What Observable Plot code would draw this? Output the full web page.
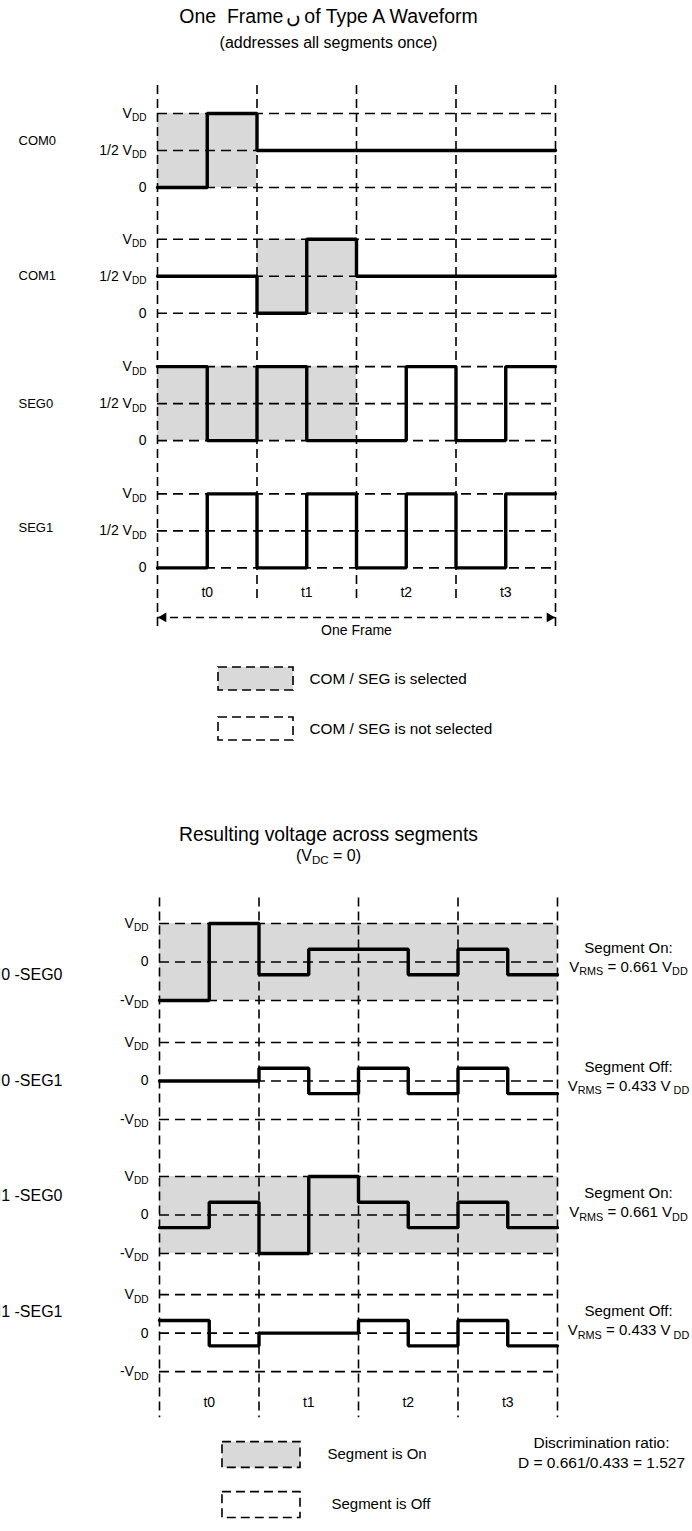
<!DOCTYPE html>
<html>
<head>
<meta charset="utf-8">
<script src="https://cdn.jsdelivr.net/npm/d3@7"></script>
<script src="https://cdn.jsdelivr.net/npm/@observablehq/plot@0.6"></script>
<style>
  body { margin: 0; background: #fff; }
  #chart { position: relative; width: 692px; height: 1531px; overflow: hidden; background: #fff;
           font-family: "Liberation Sans", Arial, Helvetica, sans-serif; color: #000; }
  .ttl { position: absolute; left: 0; width: 657px; text-align: center; white-space: pre; line-height: 1; }
  .sub { font-size: 0.72em; position: relative; top: 0.25em; }
  .gl { margin: 0 3px; }
  .pw { position: absolute; left: 0; }
</style>
</head>
<body>
<div id="chart"></div>
<script>
const fontFamily = '"Liberation Sans", Arial, Helvetica, sans-serif';

// ---------- shared ----------
const phases = ["t0", "t1", "t2", "t3"];

// ---------- top: drive waveforms (level per half phase, in VDD) ----------
const topSignals = ["COM0", "COM1", "SEG0", "SEG1"];
const com0 = [0, 1, 0.5, 0.5, 0.5, 0.5, 0.5, 0.5];
const com1 = [0.5, 0.5, 0, 1, 0.5, 0.5, 0.5, 0.5];
const seg0 = [1, 0, 1, 0, 0, 1, 0, 1];
const seg1 = [0, 1, 0, 1, 0, 1, 0, 1];
const topLevels = [0, 0.5, 1];
const topTickLabels = ["0", "1/2 V_{DD}", "V_{DD}"];
const topRowOffset = [0, -1.70, -3.42, -5.14];
const topLabelLevel = [0.635, 0.5, 0.5, 0.54];
const topSelected = [
  {row: 0, from: 0, to: 1},
  {row: 1, from: 1, to: 2},
  {row: 2, from: 0, to: 2}
];
const topLegendLabels = ["COM / SEG is selected", "COM / SEG is not selected"];
const legendFills = ["#d9d9d9", "#ffffff"];

// ---------- bottom: resulting voltage (drawn level per half phase, in VDD) ----------
const bottomSignals = ["COM0 -SEG0", "COM0 -SEG1", "COM1 -SEG0", "COM1 -SEG1"];
const com0seg0 = [-1, 1, -0.33, 0.33, 0.33, -0.33, 0.33, -0.33];
const com0seg1 = [0, 0, 0.33, -0.33, 0.33, -0.33, 0.33, -0.33];
const com1seg0 = [-0.33, 0.33, -1, 1, 0.33, -0.33, 0.33, -0.33];
const com1seg1 = [0.33, -0.33, 0, 0, 0.33, -0.33, 0.33, -0.33];
const bottomLevels = [-1, 0, 1];
const bottomTickLabels = ["-V_{DD}", "0", "V_{DD}"];
const bottomRowOffset = [0, -3.09, -6.57, -9.64];
const bottomLabelLevel = [-0.34, 0, 0.5, 0.55];
const segmentOnRows = [0, 2];
const statusLabels = ["Segment On:", "Segment Off:", "Segment On:", "Segment Off:"];
const vrmsLabels = ["V_{RMS} = 0.661 V_{DD}", "V_{RMS} = 0.433 V_{ DD}", "V_{RMS} = 0.661 V_{DD}", "V_{RMS} = 0.433 V_{ DD}"];
const statusLevel = [0.36, 0.36, 0.56, 0.56];
const vrmsLevel = [-0.13, -0.13, 0.07, 0.07];
const discriminationLines = ["Discrimination ratio:", "D = 0.661/0.433 = 1.527"];
const bottomLegendLabels = ["Segment is On", "Segment is Off"];

// ---------- helpers ----------
function stepPoints(values, row, offsets) {
  const pts = values.map((v, i) => ({row, x: i / 2, y: offsets[row] + v}));
  pts.push({row, x: 4, y: offsets[row] + values[values.length - 1]});
  return pts;
}
function applySubscripts(svg) {
  d3.select(svg).selectAll("text").each(function () {
    const t = this.textContent;
    if (!t.includes("_{")) return;
    const el = d3.select(this);
    el.text(null);
    const parts = t.split(/(_\{[^}]*\})/).filter(p => p.length);
    let down = false;
    for (const p of parts) {
      if (p.startsWith("_{")) {
        el.append("tspan").attr("font-size", "0.72em").attr("dy", down ? 0 : 3.5).text(p.slice(2, -1));
        down = true;
      } else {
        el.append("tspan").attr("dy", down ? -3.5 : 0).text(p);
        down = false;
      }
    }
  });
}
const dashGrid = "10,6";
const dashV = "9,5";
const gw = 1.6;
const ww = 3.4;

// ---------- top plot ----------
const topWave = [com0, com1, seg0, seg1].flatMap((vals, r) => stepPoints(vals, r, topRowOffset));
const topGrid = topSignals.flatMap((s, r) => topLevels.map((l, i) => ({y: topRowOffset[r] + l, text: topTickLabels[i]})));
const topV = [0, 1, 2, 3, 4].map(x => ({x, y1: 1.378, y2: (x === 0 || x === 4) ? -5.96 : -5.62}));
const topLegend = topLegendLabels.map((label, i) => ({label, fill: legendFills[i], i}));
const arrowY = -5.81;

const topPlot = Plot.plot({
  width: 692, height: 780, margin: 0,
  x: {domain: [0, 4], range: [157, 555], axis: null},
  y: {domain: [0, 1], range: [187, 113], axis: null},
  style: {fontFamily, fontSize: "13px", color: "black", background: "white"},
  marks: [
    Plot.rect(topSelected, {x1: "from", x2: "to", y1: d => topRowOffset[d.row], y2: d => topRowOffset[d.row] + 1, fill: "#d9d9d9"}),
    Plot.ruleY(topGrid, {y: "y", x1: () => 0, x2: () => 4, stroke: "black", strokeWidth: gw, strokeDasharray: dashGrid}),
    Plot.ruleX(topV, {x: "x", y1: "y1", y2: "y2", stroke: "black", strokeWidth: gw, strokeDasharray: dashV}),
    Plot.line(topWave, {x: "x", y: "y", z: "row", curve: "step-after", stroke: "black", strokeWidth: ww, strokeLinejoin: "miter"}),
    Plot.text(topSignals, {x: () => 0, y: (d, i) => topRowOffset[i] + topLabelLevel[i], text: d => d, textAnchor: "start", dx: -139, fontSize: 13}),
    Plot.text(topGrid, {x: () => 0, y: "y", text: "text", textAnchor: "end", dx: -11, fontSize: 14}),
    Plot.text(phases, {x: (d, i) => i + 0.5, y: () => -5.47, text: d => d, fontSize: 14}),
    Plot.ruleY([arrowY], {x1: () => 0, x2: () => 4, stroke: "black", strokeWidth: gw, strokeDasharray: "8,5"}),
    Plot.dot([0], {x: d => d, y: () => arrowY, symbol: "triangle", r: 3.6, fill: "black", stroke: "none", rotate: -90, dx: 6}),
    Plot.dot([4], {x: d => d, y: () => arrowY, symbol: "triangle", r: 3.6, fill: "black", stroke: "none", rotate: 90, dx: -6}),
    Plot.text(["One Frame"], {x: () => 2, y: () => -5.99, text: d => d, fontSize: 14}),
    Plot.rect(topLegend, {x1: () => 0.613, x2: () => 1.367, y1: d => -6.486 - d.i * 0.676, y2: d => -6.797 - d.i * 0.676,
      fill: "fill", stroke: "black", strokeWidth: gw, strokeDasharray: dashV}),
    Plot.text(topLegend, {x: () => 1.528, y: d => -6.649 - d.i * 0.676, text: "label", textAnchor: "start", fontSize: 15.3})
  ]
});

// ---------- bottom plot ----------
const bottomWave = [com0seg0, com0seg1, com1seg0, com1seg1].flatMap((vals, r) => stepPoints(vals, r, bottomRowOffset));
const bottomGrid = bottomSignals.flatMap((s, r) => bottomLevels.map((l, i) => ({y: bottomRowOffset[r] + l, text: bottomTickLabels[i]})));
const bottomV = [0, 1, 2, 3, 4].map(x => ({x, y1: 1.66, y2: -11.84}));
const bottomLegend = bottomLegendLabels.map((label, i) => ({label, fill: legendFills[i], i}));
const notes = statusLabels.map((s, i) => ({status: s, vrms: vrmsLabels[i], i}));

const bottomPlot = Plot.plot({
  width: 692, height: 751, margin: 0,
  x: {domain: [0, 4], range: [159, 557], axis: null},
  y: {domain: [-1, 1], range: [220, 143], axis: null},
  style: {fontFamily, fontSize: "13px", color: "black", background: "white"},
  marks: [
    Plot.rect(segmentOnRows, {x1: () => 0, x2: () => 4, y1: r => bottomRowOffset[r] - 1, y2: r => bottomRowOffset[r] + 1, fill: "#d9d9d9"}),
    Plot.ruleY(bottomGrid, {y: "y", x1: () => 0, x2: () => 4, stroke: "black", strokeWidth: gw, strokeDasharray: dashGrid}),
    Plot.ruleX(bottomV, {x: "x", y1: "y1", y2: "y2", stroke: "black", strokeWidth: gw, strokeDasharray: dashV}),
    Plot.line(bottomWave, {x: "x", y: "y", z: "row", curve: "step-after", stroke: "black", strokeWidth: ww, strokeLinejoin: "miter"}),
    Plot.text(bottomSignals, {x: () => 0, y: (d, i) => bottomRowOffset[i] + bottomLabelLevel[i], text: d => d, textAnchor: "end", dx: -97, fontSize: 16}),
    Plot.text(bottomGrid, {x: () => 0, y: "y", text: "text", textAnchor: "end", dx: -11, fontSize: 14}),
    Plot.text(phases, {x: (d, i) => i + 0.5, y: () => -11.45, text: d => d, fontSize: 14}),
    Plot.text(notes, {x: () => 4, y: d => bottomRowOffset[d.i] + statusLevel[d.i], text: "status", dx: 71, fontSize: 15}),
    Plot.text(notes, {x: () => 4, y: d => bottomRowOffset[d.i] + vrmsLevel[d.i], text: "vrms", dx: 71, fontSize: 15}),
    Plot.text(discriminationLines, {x: () => 4, y: (d, i) => -12.49 - i * 0.52, text: d => d, dx: 44, fontSize: 15.5}),
    Plot.rect(bottomLegend, {x1: () => 0.633, x2: () => 1.417, y1: d => -12.47 - d.i * 1.30, y2: d => -13.14 - d.i * 1.30,
      fill: "fill", stroke: "black", strokeWidth: gw, strokeDasharray: dashV}),
    Plot.text(bottomLegend, {x: d => 1.688 + d.i * 0.04, y: d => -12.79 - d.i * 1.30, text: "label", textAnchor: "start", fontSize: 15})
  ]
});

applySubscripts(topPlot);
applySubscripts(bottomPlot);

// ---------- assemble ----------
const chart = document.getElementById("chart");
const w1 = document.createElement("div"); w1.className = "pw"; w1.style.top = "0px"; w1.appendChild(topPlot);
const w2 = document.createElement("div"); w2.className = "pw"; w2.style.top = "780px"; w2.appendChild(bottomPlot);
chart.appendChild(w1); chart.appendChild(w2);

function addTitle(html, top, size) {
  const d = document.createElement("div");
  d.className = "ttl"; d.style.top = top + "px"; d.style.fontSize = size + "px";
  d.innerHTML = html; chart.appendChild(d);
}
addTitle('One  Frame<span class="gl">\u06BA</span>of Type A Waveform', 7, 19.5);
addTitle("(addresses all segments once)", 35, 16);
addTitle("Resulting voltage across segments", 825, 19.3);
addTitle('(V<span class="sub">DC</span> = 0)', 848, 16);
</script>
</body>
</html>
